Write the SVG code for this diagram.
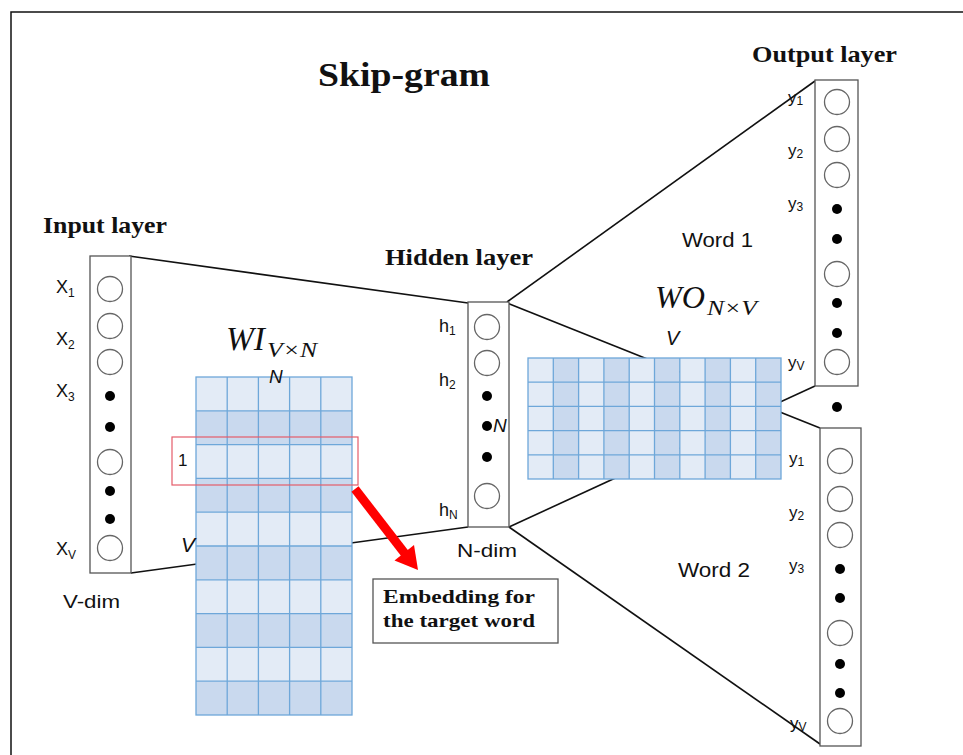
<svg xmlns="http://www.w3.org/2000/svg" width="963" height="755" viewBox="0 0 963 755">
<defs>
<style>
.title{font-family:"Liberation Serif",serif;font-weight:bold;fill:#111}
.lbl{font-family:"Liberation Sans",sans-serif;fill:#111}
.ital{font-family:"Liberation Serif",serif;font-style:italic;fill:#111}
.itsans{font-family:"Liberation Sans",sans-serif;font-style:italic;fill:#111}
.box{fill:#fff;stroke:#555;stroke-width:1.3}
.node{fill:#fff;stroke:#666;stroke-width:1.3}
.dot{fill:#000}
.conn{stroke:#111;stroke-width:1.6;fill:none}
.lt{fill:#e3ebf6}
.dk{fill:#c9d9ee}
.grid{stroke:#6ea7d9;stroke-width:1.3;fill:none}
</style>
</defs>
<rect x="0" y="0" width="963" height="755" fill="#fff"/>
<rect x="11" y="12" width="970" height="770" fill="none" stroke="#111" stroke-width="1.5"/>

<text class="title" x="404" y="86" font-size="34" text-anchor="middle" textLength="172" lengthAdjust="spacingAndGlyphs">Skip-gram</text>

<g id="connectors">
<line class="conn" x1="129" y1="256" x2="468" y2="303"/>
<line class="conn" x1="131" y1="573" x2="468" y2="527"/>
<line class="conn" x1="507" y1="302" x2="815" y2="81"/>
<line class="conn" x1="507" y1="303" x2="820" y2="428"/>
<line class="conn" x1="509" y1="527" x2="815" y2="386"/>
<line class="conn" x1="509" y1="527" x2="820" y2="744"/>
</g>

<g id="wi-matrix">
<rect class="lt" x="196" y="377" width="156" height="33.8"/>
<rect class="dk" x="196" y="410.8" width="156" height="33.8"/>
<rect class="lt" x="196" y="444.6" width="156" height="33.8"/>
<rect class="dk" x="196" y="478.4" width="156" height="33.8"/>
<rect class="lt" x="196" y="512.2" width="156" height="33.8"/>
<rect class="dk" x="196" y="546" width="156" height="33.8"/>
<rect class="lt" x="196" y="579.8" width="156" height="33.8"/>
<rect class="dk" x="196" y="613.6" width="156" height="33.8"/>
<rect class="lt" x="196" y="647.4" width="156" height="33.8"/>
<rect class="dk" x="196" y="681.2" width="156" height="33.8"/>
<g class="grid">
<rect x="196" y="377" width="156" height="338"/>
<line x1="227.2" y1="377" x2="227.2" y2="715"/>
<line x1="258.4" y1="377" x2="258.4" y2="715"/>
<line x1="289.6" y1="377" x2="289.6" y2="715"/>
<line x1="320.8" y1="377" x2="320.8" y2="715"/>
<line x1="196" y1="410.8" x2="352" y2="410.8"/>
<line x1="196" y1="444.6" x2="352" y2="444.6"/>
<line x1="196" y1="478.4" x2="352" y2="478.4"/>
<line x1="196" y1="512.2" x2="352" y2="512.2"/>
<line x1="196" y1="546" x2="352" y2="546"/>
<line x1="196" y1="579.8" x2="352" y2="579.8"/>
<line x1="196" y1="613.6" x2="352" y2="613.6"/>
<line x1="196" y1="647.4" x2="352" y2="647.4"/>
<line x1="196" y1="681.2" x2="352" y2="681.2"/>
</g>
<rect x="172" y="437" width="186" height="48" fill="none" stroke="#e45c6a" stroke-width="1.2"/>
<text class="lbl" x="178" y="466" font-size="17">1</text>
<text class="ital" x="226" y="350" font-size="34" textLength="39" lengthAdjust="spacingAndGlyphs">WI</text>
<text class="ital" x="267" y="357" font-size="22" textLength="50" lengthAdjust="spacingAndGlyphs">V×N</text>
<text class="itsans" x="269" y="383" font-size="19">N</text>
<text class="itsans" x="181" y="552" font-size="21">V</text>
</g>

<g id="wo-matrix">
<rect class="lt" x="528" y="358" width="25.3" height="121"/>
<rect class="dk" x="553.3" y="358" width="25.3" height="121"/>
<rect class="lt" x="578.6" y="358" width="25.3" height="121"/>
<rect class="dk" x="603.9" y="358" width="25.3" height="121"/>
<rect class="lt" x="629.2" y="358" width="25.3" height="121"/>
<rect class="dk" x="654.5" y="358" width="25.3" height="121"/>
<rect class="lt" x="679.8" y="358" width="25.3" height="121"/>
<rect class="dk" x="705.1" y="358" width="25.3" height="121"/>
<rect class="lt" x="730.4" y="358" width="25.3" height="121"/>
<rect class="dk" x="755.7" y="358" width="25.3" height="121"/>
<g class="grid">
<rect x="528" y="358" width="253" height="121"/>
<line x1="553.3" y1="358" x2="553.3" y2="479"/>
<line x1="578.6" y1="358" x2="578.6" y2="479"/>
<line x1="603.9" y1="358" x2="603.9" y2="479"/>
<line x1="629.2" y1="358" x2="629.2" y2="479"/>
<line x1="654.5" y1="358" x2="654.5" y2="479"/>
<line x1="679.8" y1="358" x2="679.8" y2="479"/>
<line x1="705.1" y1="358" x2="705.1" y2="479"/>
<line x1="730.4" y1="358" x2="730.4" y2="479"/>
<line x1="755.7" y1="358" x2="755.7" y2="479"/>
<line x1="528" y1="382.2" x2="781" y2="382.2"/>
<line x1="528" y1="406.4" x2="781" y2="406.4"/>
<line x1="528" y1="430.6" x2="781" y2="430.6"/>
<line x1="528" y1="454.8" x2="781" y2="454.8"/>
</g>
<text class="ital" x="655" y="308" font-size="31" textLength="50" lengthAdjust="spacingAndGlyphs">WO</text>
<text class="ital" x="707" y="315" font-size="21" textLength="50" lengthAdjust="spacingAndGlyphs">N×V</text>
<text class="itsans" x="666" y="345" font-size="20">V</text>
</g>

<g id="input-layer">
<text class="title" x="43" y="233" font-size="23" textLength="124" lengthAdjust="spacingAndGlyphs">Input layer</text>
<rect class="box" x="90" y="256" width="41" height="317"/>
<circle class="node" cx="110" cy="289" r="12.5"/>
<circle class="node" cx="110" cy="326" r="12.5"/>
<circle class="node" cx="110" cy="362" r="12.5"/>
<circle class="dot" cx="110" cy="396" r="5"/>
<circle class="dot" cx="110" cy="427" r="5"/>
<circle class="node" cx="110" cy="462" r="12.5"/>
<circle class="dot" cx="110" cy="491" r="5"/>
<circle class="dot" cx="110" cy="519" r="5"/>
<circle class="node" cx="110" cy="548" r="12.5"/>
<text class="lbl" x="56" y="293" font-size="18">X<tspan font-size="12" dy="4">1</tspan></text>
<text class="lbl" x="56" y="345" font-size="18">X<tspan font-size="12" dy="4">2</tspan></text>
<text class="lbl" x="56" y="397" font-size="18">X<tspan font-size="12" dy="4">3</tspan></text>
<text class="lbl" x="56" y="555" font-size="18">X<tspan font-size="12" dy="4">V</tspan></text>
<text class="lbl" x="63" y="608" font-size="19" textLength="57" lengthAdjust="spacingAndGlyphs">V-dim</text>
</g>

<g id="hidden-layer">
<text class="title" x="385" y="265" font-size="23" textLength="148" lengthAdjust="spacingAndGlyphs">Hidden layer</text>
<rect class="box" x="468" y="302" width="41" height="225"/>
<circle class="node" cx="487" cy="327" r="12.5"/>
<circle class="node" cx="487" cy="363" r="12.5"/>
<circle class="dot" cx="487" cy="396" r="5"/>
<circle class="dot" cx="487" cy="426" r="5"/>
<circle class="dot" cx="487" cy="457" r="5"/>
<circle class="node" cx="487" cy="496" r="12.5"/>
<text class="lbl" x="439" y="332" font-size="18">h<tspan font-size="12" dy="3">1</tspan></text>
<text class="lbl" x="439" y="386" font-size="18">h<tspan font-size="12" dy="3">2</tspan></text>
<text class="lbl" x="439" y="516" font-size="18">h<tspan font-size="12" dy="3">N</tspan></text>
<text class="itsans" x="493" y="432" font-size="19">N</text>
<text class="lbl" x="457" y="557" font-size="19" textLength="60" lengthAdjust="spacingAndGlyphs">N-dim</text>
</g>

<g id="output-word1">
<text class="title" x="752" y="62" font-size="23" textLength="145" lengthAdjust="spacingAndGlyphs">Output layer</text>
<rect class="box" x="815" y="80" width="43" height="306"/>
<circle class="node" cx="837" cy="102" r="12.5"/>
<circle class="node" cx="837" cy="139" r="12.5"/>
<circle class="node" cx="837" cy="175" r="12.5"/>
<circle class="dot" cx="837" cy="209" r="5"/>
<circle class="dot" cx="837" cy="239" r="5"/>
<circle class="node" cx="837" cy="274" r="12.5"/>
<circle class="dot" cx="837" cy="303" r="5"/>
<circle class="dot" cx="837" cy="333" r="5"/>
<circle class="node" cx="837" cy="362" r="12.5"/>
<text class="lbl" x="788" y="103" font-size="17">y<tspan font-size="12" dy="2">1</tspan></text>
<text class="lbl" x="788" y="156" font-size="17">y<tspan font-size="12" dy="2">2</tspan></text>
<text class="lbl" x="788" y="209" font-size="17">y<tspan font-size="12" dy="2">3</tspan></text>
<text class="lbl" x="788" y="368" font-size="17">y<tspan font-size="12" dy="2">V</tspan></text>
<text class="lbl" x="682" y="247" font-size="20" textLength="71" lengthAdjust="spacingAndGlyphs">Word 1</text>
</g>

<circle class="dot" cx="837" cy="407" r="5"/>

<g id="output-word2">
<rect class="box" x="820" y="428" width="41" height="318"/>
<circle class="node" cx="840" cy="461" r="12.5"/>
<circle class="node" cx="840" cy="499" r="12.5"/>
<circle class="node" cx="840" cy="535" r="12.5"/>
<circle class="dot" cx="840" cy="569" r="5"/>
<circle class="dot" cx="840" cy="598" r="5"/>
<circle class="node" cx="840" cy="633" r="12.5"/>
<circle class="dot" cx="840" cy="664" r="5"/>
<circle class="dot" cx="840" cy="693" r="5"/>
<circle class="node" cx="840" cy="721" r="12.5"/>
<text class="lbl" x="789" y="464" font-size="17">y<tspan font-size="12" dy="2">1</tspan></text>
<text class="lbl" x="789" y="518" font-size="17">y<tspan font-size="12" dy="2">2</tspan></text>
<text class="lbl" x="789" y="571" font-size="17">y<tspan font-size="12" dy="2">3</tspan></text>
<text class="lbl" x="790" y="729" font-size="17">y<tspan font-size="12" dy="2">V</tspan></text>
<text class="lbl" x="678" y="577" font-size="20" textLength="72" lengthAdjust="spacingAndGlyphs">Word 2</text>
</g>

<g id="embedding-arrow">
<line x1="355" y1="489" x2="406" y2="555" stroke="#f00" stroke-width="9"/>
<polygon points="418,570 394.5,560.5 414,545" fill="#f00"/>
</g>

<g id="embedding-note">
<rect x="373" y="579" width="185" height="64" fill="#fff" stroke="#555" stroke-width="1.3"/>
<text class="title" x="383" y="603" font-size="19" textLength="152" lengthAdjust="spacingAndGlyphs">Embedding for</text>
<text class="title" x="383" y="627" font-size="19" textLength="152" lengthAdjust="spacingAndGlyphs">the target word</text>
</g>
</svg>
